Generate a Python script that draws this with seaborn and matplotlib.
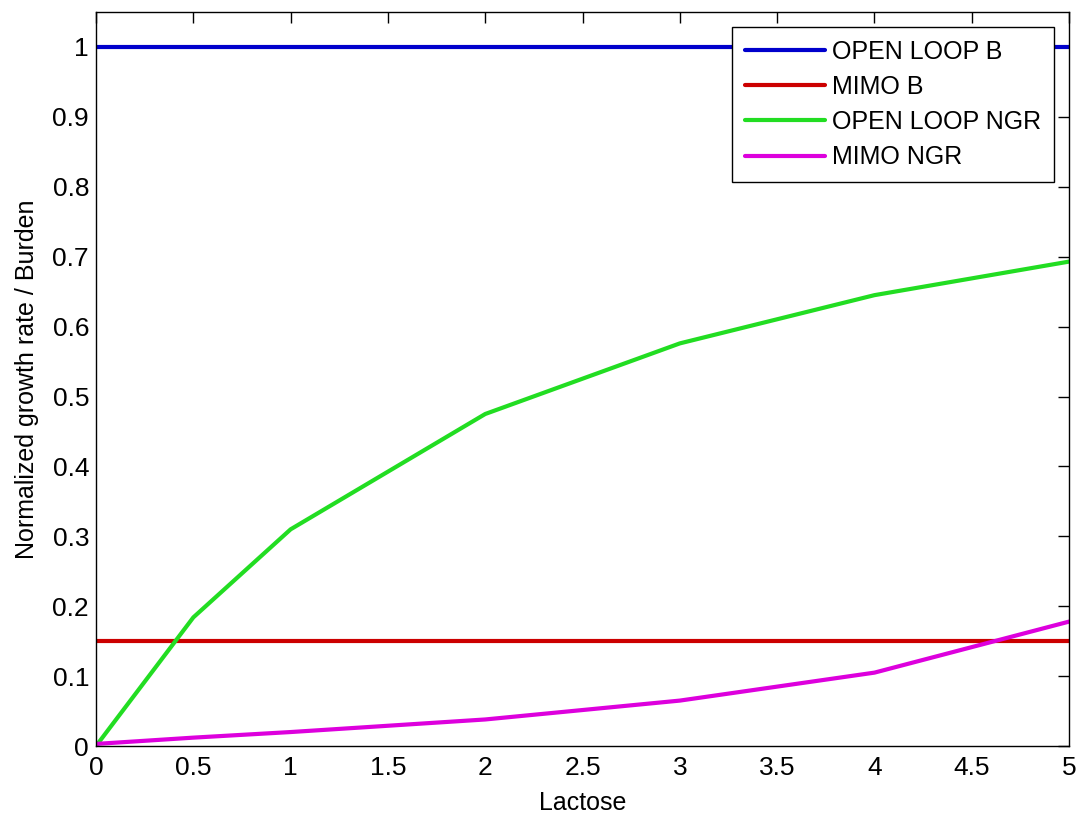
import pandas as pd
import matplotlib.pyplot as plt
import seaborn as sns

# Data
lactose = [0, 0.5, 1, 2, 3, 4, 5]
open_loop_b = [1, 1, 1, 1, 1, 1, 1]
mimo_b = [0.15, 0.15, 0.15, 0.15, 0.15, 0.15, 0.15]
open_loop_ngr = [0.0, 0.184, 0.31, 0.475, 0.576, 0.645, 0.693]
mimo_ngr = [0.003, 0.012, 0.02, 0.038, 0.065, 0.105, 0.178]

series = ["OPEN LOOP B", "MIMO B", "OPEN LOOP NGR", "MIMO NGR"]
values = [open_loop_b, mimo_b, open_loop_ngr, mimo_ngr]

df = pd.DataFrame({
    "Lactose": lactose * len(series),
    "value": [v for vals in values for v in vals],
    "series": [s for s in series for _ in lactose],
})

sns.set_style("white")
plt.rcParams["font.family"] = ["Liberation Sans", "DejaVu Sans"]
plt.rcParams["text.color"] = "black"
plt.rcParams["axes.labelcolor"] = "black"

fig = plt.figure(figsize=(10.8, 8.19), dpi=100)
ax = fig.add_axes([0.0889, 0.0891, 0.901, 0.8962])

palette = {"OPEN LOOP B": "#0000cc", "MIMO B": "#cc0000",
           "OPEN LOOP NGR": "#22dd22", "MIMO NGR": "#dd00dd"}
sns.lineplot(data=df, x="Lactose", y="value", hue="series", hue_order=series,
             palette=palette, linewidth=3, ax=ax)

ax.set_xlim(0, 5)
ax.set_ylim(0, 1.05)
ax.set_xticks([0, 0.5, 1, 1.5, 2, 2.5, 3, 3.5, 4, 4.5, 5])
ax.set_xticklabels(["0", "0.5", "1", "1.5", "2", "2.5", "3", "3.5", "4", "4.5", "5"])
ax.set_yticks([i / 10 for i in range(11)])
ax.set_yticklabels(["0", "0.1", "0.2", "0.3", "0.4", "0.5", "0.6", "0.7", "0.8", "0.9", "1"])
ax.tick_params(direction="in", length=8, width=1, top=True, right=True,
               labelsize=19, colors="black")
ax.tick_params(axis="x", pad=7)
ax.tick_params(axis="y", pad=5)
for s in ax.spines.values():
    s.set_color("black")
    s.set_linewidth(1)

ax.set_xlabel("Lactose", fontsize=18, labelpad=8)
ax.set_ylabel("Normalized growth rate / Burden", fontsize=18, labelpad=10)

leg = ax.legend(loc="upper right", fontsize=18, frameon=True, fancybox=False,
                edgecolor="black", framealpha=1, handlelength=3.2,
                borderaxespad=0.6, labelspacing=0.45, handletextpad=0.3,
                borderpad=0.5)
leg.get_frame().set_linewidth(1)

fig.savefig("out.png", dpi=100)
